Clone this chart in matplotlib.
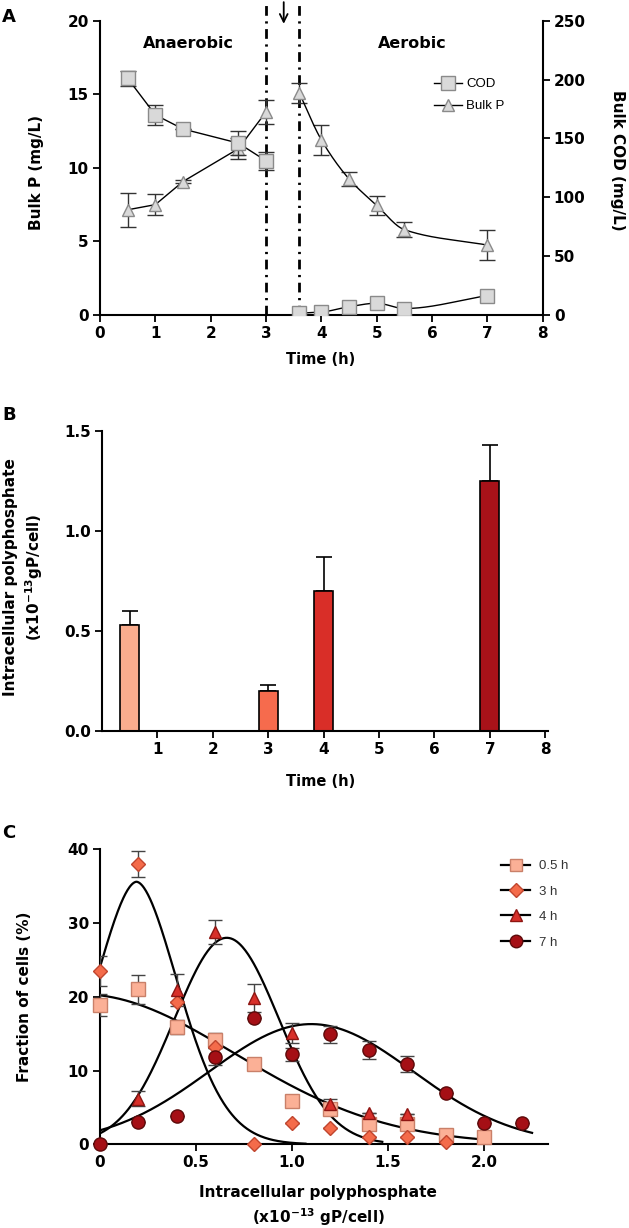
import numpy as np
import matplotlib
matplotlib.use("Agg")
import matplotlib.pyplot as plt
from matplotlib.lines import Line2D

# ---------------- Panel A data ----------------
t_anaer = [0.5, 1.0, 1.5, 2.5, 3.0]
p_anaer = [7.15, 7.5, 9.07, 11.3, 13.8]
p_anaer_err = [1.15, 0.7, 0.1, 0.7, 0.8]
cod_anaer = [201, 170, 158, 146, 131]
cod_anaer_err = [6.5, 8.5, 0.0, 10.0, 7.5]

t_aer = [3.6, 4.0, 4.5, 5.0, 5.5, 7.0]
p_aer = [15.1, 11.9, 9.25, 7.45, 5.8, 4.75]
p_aer_err = [0.7, 1.0, 0.5, 0.65, 0.5, 1.0]
cod_aer = [1.5, 2.5, 7.0, 10.0, 5.5, 16.5]

phase_lines = [3.0, 3.6]
arrow_x = 3.32

# ---------------- Panel B data ----------------
b_times = [0.5, 3, 4, 7]
b_values = [0.53, 0.20, 0.70, 1.25]
b_err = [0.07, 0.03, 0.17, 0.18]
b_colors = ["#FAAD8E", "#F66B4D", "#D92E28", "#A81219"]

# ---------------- Panel C data ----------------
c_labels = ["0.5 h", "3 h", "4 h", "7 h"]
x_05 = [0, 0.2, 0.4, 0.6, 0.8, 1.0, 1.2, 1.4, 1.6, 1.8, 2.0]
y_05 = [18.9, 21.0, 15.9, 14.1, 10.9, 5.9, 4.8, 2.8, 2.8, 1.3, 1.0]
e_05 = [1.5, 2.0, 0.9, 1.0, 0, 0, 0, 0, 0, 0, 0]

x_3 = [0, 0.2, 0.4, 0.6, 0.8, 1.0, 1.2, 1.4, 1.6, 1.8]
y_3 = [23.5, 38.0, 19.3, 13.2, 0.0, 2.9, 2.2, 1.0, 1.0, 0.35]
e_3 = [2.0, 1.8, 0, 0, 0, 0, 0, 0, 0, 0]

x_4 = [0.2, 0.4, 0.6, 0.8, 1.0, 1.2, 1.4, 1.6]
y_4 = [6.2, 20.9, 28.8, 19.8, 15.1, 5.4, 4.2, 4.1]
e_4 = [1.0, 2.2, 1.6, 1.9, 1.4, 0.8, 0, 0]

x_7 = [0, 0.2, 0.4, 0.6, 0.8, 1.0, 1.2, 1.4, 1.6, 1.8, 2.0, 2.2]
y_7 = [0.0, 3.0, 3.9, 11.9, 17.1, 12.2, 14.9, 12.8, 10.9, 6.9, 2.85, 2.9]
e_7 = [0, 0, 0, 1.1, 0, 0.9, 1.2, 1.2, 1.1, 0, 0, 0]

# fitted distribution curves: amplitude, centre, width, exponent, x-range end
fit_amp = [20.36, 35.6, 28.0, 16.3]
fit_mu = [-0.1, 0.19, 0.66, 1.10]
fit_w = [1.13, 0.321, 0.385, 0.75]
fit_p = [2.0, 1.78, 2.0, 2.0]
fit_end = [2.0, 1.07, 1.47, 2.25]

c_face = ["#FBB096", "#F46B4A", "#D8302A", "#A50F15"]
c_edge = ["#C98069", "#C0452E", "#8E1512", "#5C0A0A"]
c_marker = ["s", "D", "^", "o"]
c_msize = [9.5, 7.5, 9, 9.5]

W, H = 629, 1228
BOLD = dict(fontweight="bold", family="DejaVu Sans")
plt.rcParams["font.family"] = ["DejaVu Sans"]


def pchip(x, y, xs):
    x = np.asarray(x, float)
    y = np.asarray(y, float)
    h = np.diff(x)
    d = np.diff(y) / h
    n = len(x)
    m = np.zeros(n)
    for k in range(1, n - 1):
        if d[k - 1] * d[k] <= 0:
            m[k] = 0.0
        else:
            w1 = 2 * h[k] + h[k - 1]
            w2 = h[k] + 2 * h[k - 1]
            m[k] = (w1 + w2) / (w1 / d[k - 1] + w2 / d[k])
    m[0] = d[0]
    m[-1] = d[-1]
    out = np.empty_like(xs)
    for i, xv in enumerate(xs):
        k = min(max(np.searchsorted(x, xv) - 1, 0), n - 2)
        t = (xv - x[k]) / h[k]
        h00 = 2 * t**3 - 3 * t**2 + 1
        h10 = t**3 - 2 * t**2 + t
        h01 = -2 * t**3 + 3 * t**2
        h11 = t**3 - t**2
        out[i] = h00 * y[k] + h10 * h[k] * m[k] + h01 * y[k + 1] + h11 * h[k] * m[k + 1]
    return out


def fx(px):
    return px / W


def fy(py):
    return 1 - py / H


def style_axis(ax, spines=("left", "bottom")):
    for s in ["left", "right", "top", "bottom"]:
        ax.spines[s].set_visible(s in spines)
        ax.spines[s].set_linewidth(1.5)
    ax.tick_params(direction="out", length=5, width=1.3, labelsize=11, pad=3)
    for lab in ax.get_xticklabels() + ax.get_yticklabels():
        lab.set_fontweight("bold")


fig = plt.figure(figsize=(W / 100, H / 100), dpi=100)

# ================= Panel A =================
axA = fig.add_axes([fx(100), fy(315), fx(542.7 - 100), (315 - 20.7) / H])
axA2 = axA.twinx()
axA.set_xlim(0, 8)
axA.set_ylim(0, 20)
axA2.set_ylim(0, 250)
axA.set_xticks(range(0, 9))
axA.set_yticks([0, 5, 10, 15, 20])
axA2.set_yticks([0, 50, 100, 150, 200, 250])

grey_face = "#D9D9D9"
grey_edge = "#8A8A8A"
ekw = dict(ecolor="#333333", elinewidth=1.0, capsize=6, capthick=1.0)

# Bulk P
axA.errorbar(t_anaer, p_anaer, yerr=p_anaer_err, fmt="none", zorder=2, **ekw)
axA.plot(t_anaer, p_anaer, "-", color="black", lw=1.0, zorder=2)
axA.errorbar(t_aer, p_aer, yerr=p_aer_err, fmt="none", zorder=2, **ekw)
xs = np.linspace(t_aer[0], t_aer[-1], 200)
axA.plot(xs, pchip(t_aer, p_aer, xs), "-", color="black", lw=1.0, zorder=2)
axA.plot(t_anaer + t_aer, p_anaer + p_aer, "^", ms=9, mfc=grey_face, mec=grey_edge,
         mew=1.0, ls="none", zorder=3)

# COD on right axis
axA2.errorbar(t_anaer, cod_anaer, yerr=cod_anaer_err, fmt="none", zorder=2, **ekw)
axA2.plot(t_anaer, cod_anaer, "-", color="black", lw=1.0, zorder=2)
axA2.plot(xs, pchip(t_aer, cod_aer, xs), "-", color="black", lw=1.0, zorder=2)
axA2.plot(t_anaer + t_aer, cod_anaer + cod_aer, "s", ms=9.5, mfc=grey_face, mec=grey_edge,
          mew=1.0, ls="none", zorder=3)

for xv in phase_lines:
    axA.plot([xv, xv], [0, 21.2], color="black", lw=2.0, dashes=(3.5, 2, 0.8, 2),
             clip_on=False, zorder=1)
axA.annotate("", xy=(arrow_x, 19.6), xytext=(arrow_x, 21.45),
             arrowprops=dict(arrowstyle="->", lw=1.3, color="black", mutation_scale=14),
             annotation_clip=False)

axA.text(1.59, 18.46, "Anaerobic", ha="center", va="center", fontsize=11.5, **BOLD)
axA.text(5.65, 18.46, "Aerobic", ha="center", va="center", fontsize=11.5, **BOLD)

style_axis(axA, ("left", "bottom"))
style_axis(axA2, ("right",))
axA2.spines["left"].set_visible(False)
axA2.spines["bottom"].set_visible(False)
for lab in axA2.get_yticklabels():
    lab.set_fontweight("bold")

legA = [Line2D([], [], color="black", lw=1.0, marker="s", ms=9.5, mfc=grey_face, mec=grey_edge),
        Line2D([], [], color="black", lw=1.0, marker="^", ms=9, mfc=grey_face, mec=grey_edge)]
fig.legend(legA, ["COD", "Bulk P"], loc="upper left", bbox_to_anchor=(fx(434), fy(78)),
           frameon=False, handlelength=2.1, handletextpad=0.35,
           labelspacing=0.75, borderpad=0, borderaxespad=0,
           prop=dict(family="Liberation Sans", size=9.5))

fig.text(fx(37), fy(173), "Bulk P (mg/L)", rotation=90, ha="center", va="center",
         fontsize=11, **BOLD)
fig.text(fx(617), fy(160), "Bulk COD (mg/L)", rotation=270, ha="center", va="center",
         fontsize=11, **BOLD)
fig.text(fx(321), fy(360), "Time (h)", ha="center", va="center", fontsize=10.5, **BOLD)
fig.text(fx(9), fy(17), "A", ha="center", va="center", fontsize=13, **BOLD)

# ================= Panel B =================
axB = fig.add_axes([fx(101.9), fy(731), fx(548 - 101.9), (731 - 430.7) / H])
axB.bar(b_times, b_values, width=0.34, color=b_colors, edgecolor="black", lw=1.2, zorder=2)
axB.errorbar(b_times, b_values, yerr=[np.zeros(len(b_err)), b_err], fmt="none",
             ecolor="black", elinewidth=1.2, capsize=6, capthick=1.2, zorder=1)
axB.set_xlim(0, 8.05)
axB.set_ylim(0, 1.5)
axB.set_xticks(range(1, 9))
axB.set_yticks([0, 0.5, 1.0, 1.5])
axB.set_yticklabels(["0.0", "0.5", "1.0", "1.5"])
style_axis(axB)
fig.text(fx(24), fy(577), "Intracellular polyphosphate\n(x10$^{\\mathbf{-13}}$gP/cell)",
         rotation=90, ha="center", va="center", fontsize=11, linespacing=1.35,
         multialignment="center", **BOLD)
fig.text(fx(321), fy(782), "Time (h)", ha="center", va="center", fontsize=10.5, **BOLD)
fig.text(fx(9), fy(415), "B", ha="center", va="center", fontsize=13, **BOLD)

# ================= Panel C =================
axC = fig.add_axes([fx(100), fy(1144.3), fx(548 - 100), (1144.3 - 849.3) / H])
axC.set_xlim(0, 2.333)
axC.set_ylim(0, 40)

for i in range(4):
    xc = np.linspace(0, fit_end[i], 300)
    yc = fit_amp[i] * np.exp(-(np.abs(xc - fit_mu[i]) / fit_w[i]) ** fit_p[i])
    axC.plot(xc, yc, color="black", lw=1.6, zorder=2)

series = [(x_05, y_05, e_05), (x_3, y_3, e_3), (x_4, y_4, e_4), (x_7, y_7, e_7)]
for i, (xv, yv, ev) in enumerate(series):
    axC.errorbar(xv, yv, yerr=ev, fmt="none", ecolor="#444444", elinewidth=1.0,
                 capsize=5, capthick=1.0, zorder=3)
for i in [0, 1, 3, 2]:
    xv, yv, ev = series[i]
    axC.plot(xv, yv, c_marker[i], ms=c_msize[i], mfc=c_face[i], mec=c_edge[i], mew=1.0,
             ls="none", zorder=4, clip_on=False)

axC.set_xticks([0, 0.5, 1.0, 1.5, 2.0])
axC.set_xticklabels(["0", "0.5", "1.0", "1.5", "2.0"])
axC.set_yticks([0, 10, 20, 30, 40])
style_axis(axC)

legC = [Line2D([], [], color="black", lw=1.6, marker=c_marker[i], ms=c_msize[i] * 0.95,
               mfc=c_face[i], mec=c_edge[i]) for i in range(4)]
fig.legend(legC, c_labels, loc="upper left", bbox_to_anchor=(fx(501), fy(860)),
           frameon=False, handlelength=2.2, handletextpad=0.7, labelspacing=1.0,
           borderpad=0, borderaxespad=0, prop=dict(family="Liberation Sans", size=9.5),
           labelcolor="#333333")

fig.text(fx(25), fy(997), "Fraction of cells (%)", rotation=90, ha="center", va="center",
         fontsize=11, **BOLD)
fig.text(fx(318), fy(1193), "Intracellular polyphosphate", ha="center", va="center",
         fontsize=11, **BOLD)
fig.text(fx(318), fy(1217), "(x10$^{\\mathbf{-13}}$ gP/cell)", ha="center", va="center",
         fontsize=11, **BOLD)
fig.text(fx(9), fy(833), "C", ha="center", va="center", fontsize=13, **BOLD)

fig.savefig("out.png", dpi=100)
